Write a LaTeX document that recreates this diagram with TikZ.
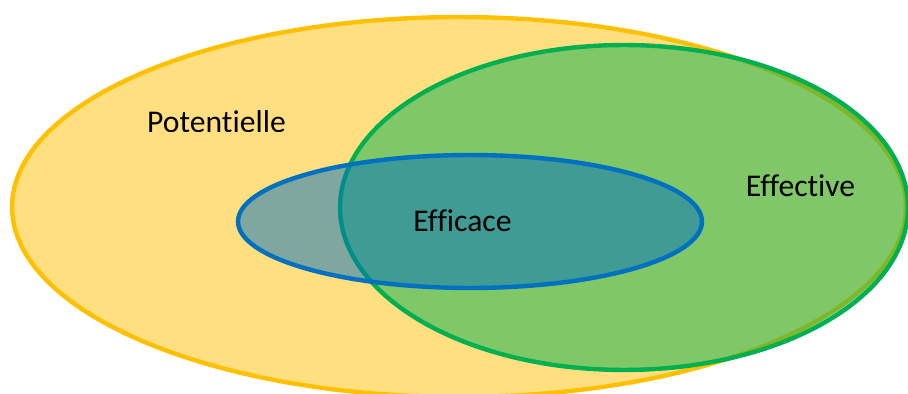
\documentclass[tikz,border=0pt]{standalone}
\usepackage{fontspec}
\setmainfont[Ligatures=NoCommon]{Carlito}
\usepackage{tikz}
\usetikzlibrary{shapes.geometric,positioning}

\definecolor{potcol}{HTML}{FFC000}
\definecolor{effcol}{HTML}{00B050}
\definecolor{efccol}{HTML}{0070C0}

\begin{document}
\begin{tikzpicture}[
    x=0.02cm, y=-0.02cm,
    set/.style={ellipse, draw, line width=2.5pt, inner sep=0pt, fill opacity=0.5},
    lbl/.style={font=\fontsize{18}{22}\selectfont, anchor=base, inner sep=0pt},
  ]

  \clip (0,0) rectangle (908,394);

  % Potentielle
  \node[set, draw=potcol, fill=potcol, minimum width=17.88cm, minimum height=7.6cm] (pot) at (459,207) {};

  % Effective
  \node[set, draw=effcol, fill=effcol, minimum width=11.36cm, minimum height=6.5cm] (eff) at (624,207.5) {};

  % Efficace
  \node[set, draw=efccol, fill=efccol, minimum width=9.28cm, minimum height=2.66cm] (efc) at (470,221.5) {};

  % Labels
  \begin{scope}
    \clip (0,0) rectangle (908,132);
    \node[lbl] (potlbl) at (216.5,133) {Potentielle};
  \end{scope}
  \node[lbl] (efflbl) at (800.5,197) {Effective};
  \node[lbl] (efclbl) at (462.5,232) {Efficace};

\end{tikzpicture}
\end{document}
